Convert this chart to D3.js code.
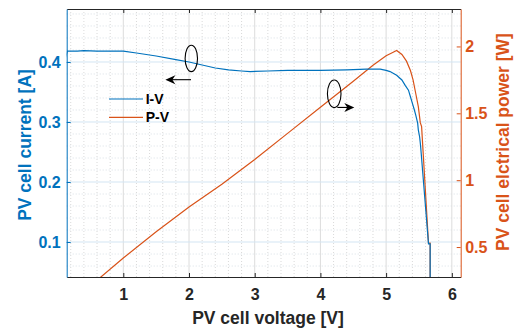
<!DOCTYPE html>
<html>
<head>
<meta charset="utf-8">
<script src="https://cdn.jsdelivr.net/npm/d3@7"></script>
<style>
  body { margin: 0; background: #fff; }
  text { font-family: "Liberation Sans", Arial, sans-serif; font-weight: bold; }
</style>
</head>
<body>
<div id="chart"></div>
<script>
// I-V curve
const voltageIV = [0.10, 0.15, 0.30, 0.40, 0.60, 0.80, 1.00, 1.20, 1.50, 1.80, 2.00, 2.20, 2.40, 2.60, 2.80, 2.93, 3.20, 3.50, 4.00, 4.40, 4.70, 4.91, 5.00, 5.06, 5.16, 5.24, 5.29, 5.34, 5.37, 5.40, 5.43, 5.45, 5.48, 5.49, 5.51, 5.52, 5.53, 5.645, 5.67, 5.67];
const currentIV = [0.400, 0.418, 0.418, 0.419, 0.418, 0.418, 0.418, 0.415, 0.410, 0.404, 0.400, 0.395, 0.390, 0.387, 0.385, 0.384, 0.385, 0.386, 0.386, 0.387, 0.388, 0.388, 0.386, 0.384, 0.378, 0.370, 0.361, 0.353, 0.342, 0.331, 0.320, 0.312, 0.298, 0.287, 0.275, 0.265, 0.253, 0.097, 0.097, 0.000];

// P-V curve
const voltagePV = [0.50, 1.00, 1.50, 2.00, 2.50, 3.00, 3.50, 4.00, 4.50, 4.80, 5.00, 5.10, 5.16, 5.24, 5.31, 5.37, 5.41, 5.45, 5.49, 5.52, 5.54, 5.645, 5.67, 5.67];
const powerPV = [0.21, 0.418, 0.615, 0.80, 0.97, 1.155, 1.35, 1.545, 1.74, 1.86, 1.93, 1.955, 1.97, 1.94, 1.89, 1.82, 1.75, 1.65, 1.55, 1.43, 1.40, 0.53, 0.53, 0.00];

const xTicks = [1, 2, 3, 4, 5, 6];
const currentTicks = [0.1, 0.2, 0.3, 0.4];
const powerTicks = [0.5, 1, 1.5, 2];
const seriesNames = ['I-V', 'P-V'];

const blue = '#0072BD', orange = '#D95319', dark = '#262626';
const width = 516, height = 331;
const margin = {top: 9, right: 55.3, bottom: 54, left: 66.7};
const plotW = width - margin.left - margin.right;
const plotH = height - margin.top - margin.bottom;

const svg = d3.select('#chart').append('svg')
    .attr('width', width)
    .attr('height', height)
    .style('background', '#fff');

const x = d3.scaleLinear().domain([0.1385, 6.135]).range([0, plotW]);
const yI = d3.scaleLinear().domain([0.0417, 0.4883]).range([plotH, 0]);
const yP = d3.scaleLinear().domain([0.276, 2.280]).range([plotH, 0]);

const g = svg.append('g').attr('transform', `translate(${margin.left},${margin.top})`);

// minor grid
const xMinor = d3.range(0.2, 6.1, 0.2).filter(v => Math.abs(v - Math.round(v)) > 0.01);
const yMinor = d3.range(0.06, 0.49, 0.02).filter(v => Math.abs(v * 10 - Math.round(v * 10)) > 0.01);
g.append('g').selectAll('line').data(xMinor).join('line')
    .attr('x1', d => x(d)).attr('x2', d => x(d))
    .attr('y1', 0).attr('y2', plotH)
    .attr('stroke', '#cfcfcf').attr('stroke-width', 0.8).attr('stroke-dasharray', '1,2');
g.append('g').selectAll('line').data(yMinor).join('line')
    .attr('x1', 0).attr('x2', plotW)
    .attr('y1', d => yI(d)).attr('y2', d => yI(d))
    .attr('stroke', '#cfd8e0').attr('stroke-width', 0.8).attr('stroke-dasharray', '1,2');

// major grid
g.append('g').selectAll('line').data(xTicks).join('line')
    .attr('x1', d => x(d)).attr('x2', d => x(d))
    .attr('y1', 0).attr('y2', plotH)
    .attr('stroke', '#dcdcdc').attr('stroke-width', 1);
g.append('g').selectAll('line').data(currentTicks).join('line')
    .attr('x1', 0).attr('x2', plotW)
    .attr('y1', d => yI(d)).attr('y2', d => yI(d))
    .attr('stroke', '#d3e5f3').attr('stroke-width', 1);

// data lines
svg.append('clipPath').attr('id', 'clip')
    .append('rect').attr('width', plotW).attr('height', plotH);

const lineIV = d3.line().x(d => x(d[0])).y(d => yI(d[1]));
const linePV = d3.line().x(d => x(d[0])).y(d => yP(d[1]));

const plot = g.append('g').attr('clip-path', 'url(#clip)');
plot.append('path')
    .datum(d3.zip(voltagePV, powerPV))
    .attr('d', linePV)
    .attr('fill', 'none').attr('stroke', orange).attr('stroke-width', 1.2);
plot.append('path')
    .datum(d3.zip(voltageIV, currentIV))
    .attr('d', lineIV)
    .attr('fill', 'none').attr('stroke', blue).attr('stroke-width', 1.2);

// axes
function styleAxis(sel, color) {
    sel.select('.domain').attr('stroke', color).attr('stroke-width', 1);
    sel.selectAll('.tick line').attr('stroke', color);
    sel.selectAll('.tick text').attr('fill', color).style('font-size', '16px')
        .style('font-family', '"Liberation Sans", Arial, sans-serif').style('font-weight', 'bold');
}

const xAxis = g.append('g').attr('transform', `translate(0,${plotH})`)
    .call(d3.axisBottom(x).tickValues(xTicks).tickFormat(d3.format('d'))
        .tickSize(-4).tickSizeOuter(0).tickPadding(12));
styleAxis(xAxis, dark);

const topAxis = g.append('g')
    .call(d3.axisTop(x).tickValues(xTicks).tickFormat('')
        .tickSize(-4).tickSizeOuter(0));
styleAxis(topAxis, dark);

const leftAxis = g.append('g')
    .call(d3.axisLeft(yI).tickValues(currentTicks).tickFormat(d3.format('.1f'))
        .tickSize(-4).tickSizeOuter(0).tickPadding(6));
styleAxis(leftAxis, blue);

const rightAxis = g.append('g').attr('transform', `translate(${plotW},0)`)
    .call(d3.axisRight(yP).tickValues(powerTicks).tickFormat(d => d3.format('~g')(d))
        .tickSize(-4).tickSizeOuter(0).tickPadding(4.5));
styleAxis(rightAxis, orange);

// axis titles
svg.append('text')
    .attr('x', 268).attr('y', 324)
    .attr('text-anchor', 'middle')
    .attr('fill', dark).style('font-size', '17.5px')
    .text('PV cell voltage [V]');

svg.append('text')
    .attr('transform', 'translate(31,145) rotate(-90)')
    .attr('text-anchor', 'middle')
    .attr('fill', blue).style('font-size', '17.5px')
    .text('PV cell current [A]');

svg.append('text')
    .attr('transform', 'translate(509,142) rotate(-90)')
    .attr('text-anchor', 'middle')
    .attr('fill', orange).style('font-size', '17.5px')
    .text('PV cell elctrical power [W]');

// legend
const legend = g.append('g');
seriesNames.forEach((name, i) => {
    const ly = 90 + i * 18.3;
    legend.append('line')
        .attr('x1', 42.3).attr('x2', 76.3)
        .attr('y1', ly).attr('y2', ly)
        .attr('stroke', i === 0 ? blue : orange).attr('stroke-width', 1.2);
    legend.append('text')
        .attr('x', 79).attr('y', ly)
        .attr('dy', '0.36em')
        .attr('fill', '#000').style('font-size', '14px')
        .text(name);
});

// annotations: ellipse + arrow pointing to the matching axis
const ellipses = [
    {v: 2.035, val: 0.406, scale: yI, rx: 6.2, ry: 13.2},
    {v: 4.21, val: 1.646, scale: yP, rx: 6.8, ry: 13.8}
];
const arrows = [
    {v0: 2.03, v1: 1.64, val: 0.3705, scale: yI},
    {v0: 4.257, v1: 4.516, val: 1.544, scale: yP}
];
ellipses.forEach(e => {
    g.append('ellipse')
        .attr('cx', x(e.v)).attr('cy', e.scale(e.val))
        .attr('rx', e.rx).attr('ry', e.ry)
        .attr('fill', 'none').attr('stroke', '#000').attr('stroke-width', 1.1);
});
arrows.forEach(a => {
    const x0 = x(a.v0), x1 = x(a.v1), yy = a.scale(a.val);
    const dir = Math.sign(x1 - x0);
    g.append('line')
        .attr('x1', x0).attr('x2', x1 - dir * 6)
        .attr('y1', yy).attr('y2', yy)
        .attr('stroke', '#000').attr('stroke-width', 1.1);
    const head = [[x1, yy], [x1 - dir * 10, yy - 4.5], [x1 - dir * 7, yy], [x1 - dir * 10, yy + 4.5]];
    g.append('path')
        .attr('d', 'M' + head.join('L') + 'Z')
        .attr('fill', '#000');
});
</script>
</body>
</html>
